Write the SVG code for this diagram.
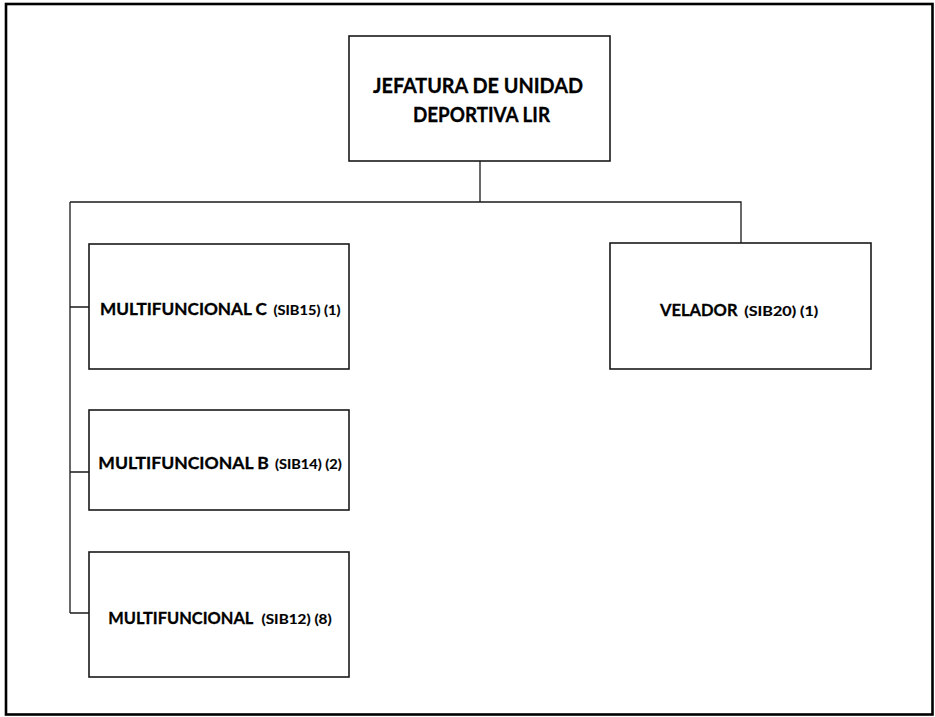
<svg xmlns="http://www.w3.org/2000/svg" width="935" height="717" viewBox="0 0 935 717">
<style>
.frame{fill:none;stroke:#000;stroke-width:2.6}
.box{fill:#fff;stroke:#1a1a1a;stroke-width:1.6}
.conn{fill:none;stroke:#1a1a1a;stroke-width:1.3}
.lbl{font-family:Lato,"Open Sans","Liberation Sans",sans-serif;font-weight:bold;fill:#000;stroke:#000}
.big{font-size:17.5px;stroke-width:0.3}
.root{font-size:20px;stroke-width:0.3}
.small{font-size:13px;stroke-width:0.15}
</style>
<rect width="935" height="717" fill="#fff"/>
<rect class="frame" x="6" y="4" width="926.5" height="710.5"/>
<g id="connectors">
<path class="conn" d="M480 161V202M70 202H741V243M70 202V613M70 307H89M70 472H89M70 613H89"/>
</g>
<g id="node-root">
<rect class="box" x="349" y="36" width="261" height="125"/>
<text class="lbl root" x="373" y="93" textLength="210" lengthAdjust="spacingAndGlyphs">JEFATURA DE UNIDAD</text>
<text class="lbl root" x="413" y="122" textLength="137" lengthAdjust="spacingAndGlyphs">DEPORTIVA LIR</text>
</g>
<g id="node-multifuncional-c">
<rect class="box" x="89" y="244" width="260" height="125"/>
<text class="lbl" y="315"><tspan class="big" x="100" textLength="167" lengthAdjust="spacingAndGlyphs">MULTIFUNCIONAL C</tspan><tspan class="small" x="273.5" textLength="67" lengthAdjust="spacingAndGlyphs">(SIB15) (1)</tspan></text>
</g>
<g id="node-multifuncional-b">
<rect class="box" x="89" y="410" width="260" height="100"/>
<text class="lbl" y="469"><tspan class="big" x="98.3" textLength="170.5" lengthAdjust="spacingAndGlyphs">MULTIFUNCIONAL B</tspan><tspan class="small" x="275" textLength="66.7" lengthAdjust="spacingAndGlyphs">(SIB14) (2)</tspan></text>
</g>
<g id="node-multifuncional">
<rect class="box" x="89" y="552" width="260" height="125"/>
<text class="lbl" y="623.5"><tspan class="big" x="108.3" textLength="145" lengthAdjust="spacingAndGlyphs">MULTIFUNCIONAL</tspan><tspan class="small" x="261.5" textLength="70.2" lengthAdjust="spacingAndGlyphs">(SIB12) (8)</tspan></text>
</g>
<g id="node-velador">
<rect class="box" x="610" y="243" width="261" height="126"/>
<text class="lbl" y="316"><tspan class="big" x="660" textLength="77.5" lengthAdjust="spacingAndGlyphs">VELADOR</tspan><tspan class="small" x="744.3" textLength="74" lengthAdjust="spacingAndGlyphs">(SIB20) (1)</tspan></text>
</g>
</svg>
